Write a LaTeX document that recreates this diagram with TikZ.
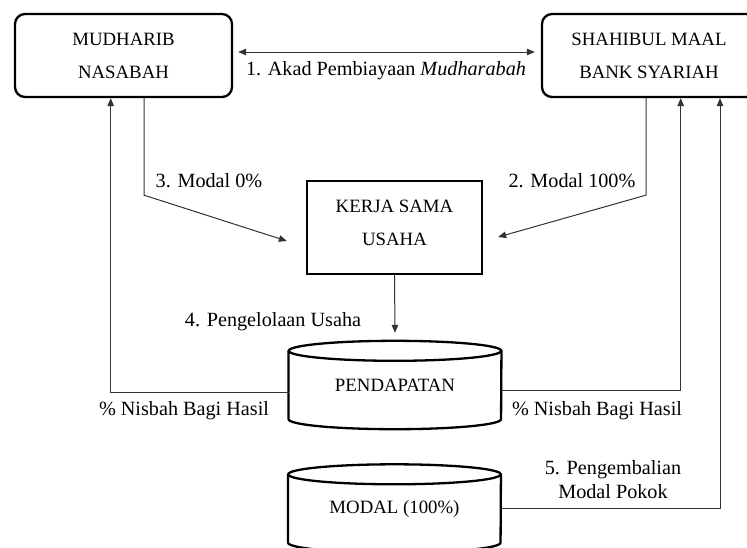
\documentclass[tikz,border=0pt]{standalone}
\usepackage{fontspec}
\setmainfont{Liberation Serif}
\usetikzlibrary{arrows.meta,calc}
\begin{document}
\begin{tikzpicture}[x=1pt,y=-1pt,
  boxfont/.style={font=\fontsize{18.8}{33}\selectfont},
  lblfont/.style={font=\fontsize{20.2}{24}\selectfont},
  actor/.style={draw, line width=2.3pt, rounded corners=10pt, align=center, inner sep=0pt, boxfont},
  process/.style={draw, line width=2.3pt, align=center, inner sep=0pt, boxfont},
  cylbody/.style={inner sep=0pt, align=center, boxfont, minimum width=212.5pt, minimum height=68pt},
  conn/.style={draw=black!80, line width=1pt},
  tip/.style={-{Triangle[length=8pt,width=6.5pt]}},
  arr/.style={conn, tip},
  lbl/.style={inner sep=0pt, align=center, lblfont},
  cylline/.style={line width=2.3pt}
]
\useasboundingbox (0,0) rectangle (747,547);
\clip (0,0) rectangle (747,547);

\node[actor, minimum width=217pt, minimum height=83pt] (mud) at (123.5,55.5) {MUDHARIB\\NASABAH};
\node[actor, minimum width=214pt, minimum height=83pt] (sha) at (649,55.5) {SHAHIBUL MAAL\\BANK SYARIAH};
\node[process, minimum width=175pt, minimum height=93pt, text depth=9pt] (kerja) at (394.5,227.5) {KERJA SAMA\\USAHA};
\node[cylbody] (pend) at (395,385) {PENDAPATAN};
\node[cylbody] (modal) at (394.5,508.5) {MODAL (100\%)};

\foreach \c in {pend,modal} {
  \draw[cylline] (\c.north west) -- (\c.south west)
     arc[start angle=180,end angle=360,x radius=106.25pt,y radius=10pt] -- (\c.north east);
  \draw[cylline] (\c.north) ellipse[x radius=106.25pt, y radius=10pt];
}

\draw[conn, {Triangle[length=8pt,width=6.5pt]}-{Triangle[length=8pt,width=6.5pt]}]
  ([xshift=5pt,yshift=3.5pt]mud.east) -- ([xshift=-6pt,yshift=3.5pt]sha.west);
\draw[arr] ([xshift=20.5pt]mud.south) -- ++(0,97) -- ([xshift=-19pt,yshift=-13.5pt]kerja.west);
\draw[arr] ([xshift=-3pt]sha.south) -- ++(0,97) -- ([xshift=15pt,yshift=-9.5pt]kerja.east);
\draw[arr] (kerja.south) -- ([yshift=18pt]pend.north);
\draw[arr] ([yshift=-7pt]pend.west) -| ([xshift=-12.8pt]mud.south);
\draw[arr] ([yshift=-5pt]pend.east) -| ([xshift=31.7pt]sha.south);
\draw[arr] (modal.east) -| ([xshift=71pt]sha.south);

\node[lbl] (l1) at (386,71) {1. Akad Pembiayaan \textit{Mudharabah}};
\node[lbl] (l3) at (209,181) {3. Modal 0\%};
\node[lbl] (l2) at (572,181) {2. Modal 100\%};
\node[lbl] (l4) at (273,322) {4. Pengelolaan Usaha};
\node[lbl] (l5) at (184,411) {\% Nisbah Bagi Hasil};
\node[lbl] (l6) at (597,411) {\% Nisbah Bagi Hasil};
\node[lbl] (l7) at (613,480) {5. Pengembalian\\Modal Pokok};
\end{tikzpicture}
\end{document}
